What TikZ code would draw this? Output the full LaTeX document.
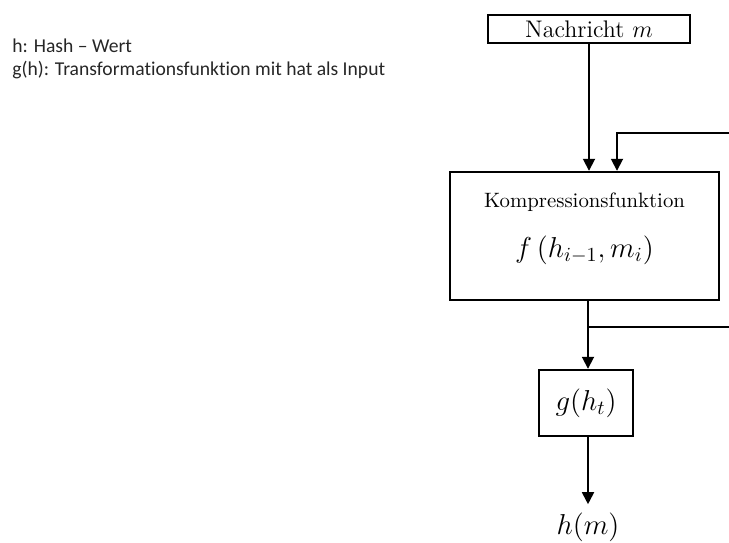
\documentclass[tikz,border=0pt]{standalone}
\usepackage{amsmath}
\usepackage{fontspec}
\newfontfamily\notefont{Carlito}[Ligatures=NoCommon]
\usetikzlibrary{arrows.meta,positioning}
\definecolor{notegray}{HTML}{262626}

\begin{document}
\begin{tikzpicture}[x=0.5pt,y=-0.5pt,
  b/.style={draw,line width=1.2pt,inner sep=0pt,align=center},
  ar/.style={-{Triangle[length=6pt,width=6pt]},line width=0.9pt},
  ln/.style={line width=0.9pt},
  nt/.style={anchor=west,inner sep=0pt,font=\notefont\fontsize{9.8}{12}\selectfont,text=notegray}]
\useasboundingbox (0,0) rectangle (729,542);
% notes
\node[nt] (hnote) at (12,46) {h: Hash – Wert};
\node[nt] (gnote) at (12,70) {g(h): Transformationsfunktion mit hat als Input};
% blocks
\node[b,minimum width=101pt,minimum height=14pt,font=\large] (msg) at (589,29) {Nachricht $m$};
\node[b,minimum width=134.5pt,minimum height=64pt] (komp) at (584.5,236) {};
\node[inner sep=0pt,font=\fontsize{10.4}{12}\selectfont] (ktitle) at (584.5,202) {Kompressionsfunktion};
\node[inner sep=0pt,font=\Large] (kfun) at (584.5,250) {$f\left(h_{i-1},m_i\right)$};
\node[b,minimum width=47pt,minimum height=33pt,font=\Large] (trans) at (586,403) {$g(h_t)$};
\node[inner sep=0pt,font=\Large] (hm) at (588,527) {$h(m)$};
\coordinate (fbin) at (729,133);
\coordinate (fbout) at (729,327);
\coordinate (split) at (588,327);
% connectors
\draw[ar] (msg.south) -- (msg.south |- komp.north);
\draw[ar] (fbin) -| ([xshift=16.25pt]komp.north);
\draw[ln] (split |- komp.south) -- (split) -- (fbout);
\draw[ar] (split) -- (split |- trans.north);
\draw[ar] (split |- trans.south) -- ([yshift=4pt]hm.north -| split);
\end{tikzpicture}
\end{document}
